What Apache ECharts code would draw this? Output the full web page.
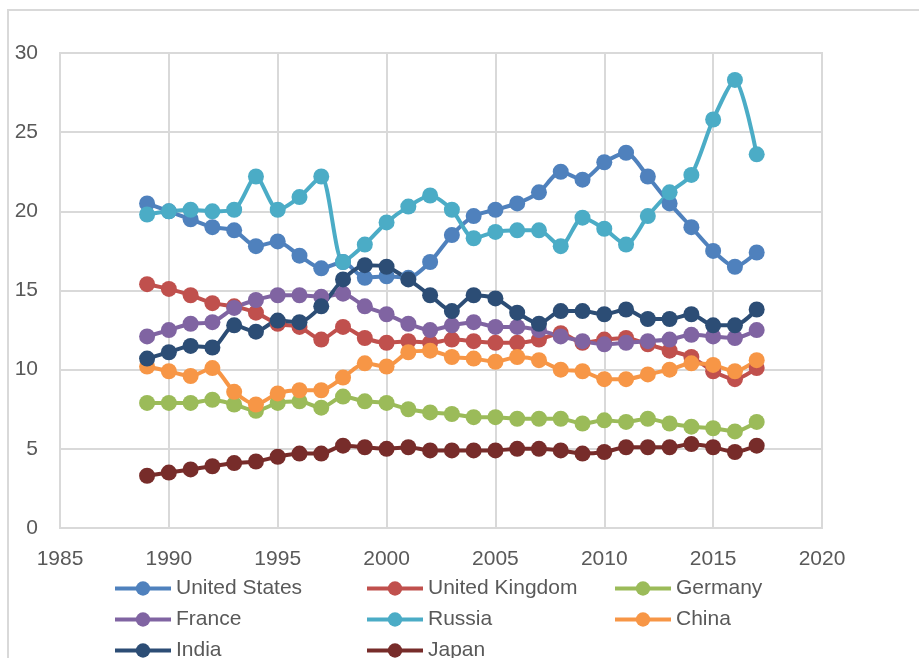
<!DOCTYPE html>
<html>
<head>
<meta charset="utf-8">
<script src="https://cdn.jsdelivr.net/npm/echarts@6/dist/echarts.min.js"></script>
<style>
  html, body { margin: 0; padding: 0; background: #fff; }
  #main { width: 919px; height: 658px; }
</style>
</head>
<body>
<div id="main"></div>
<script>
// years on the x axis
var years = [1989, 1990, 1991, 1992, 1993, 1994, 1995, 1996, 1997, 1998,
  1999, 2000, 2001, 2002, 2003, 2004, 2005, 2006, 2007, 2008,
  2009, 2010, 2011, 2012, 2013, 2014, 2015, 2016, 2017];

// values per country
var unitedStates = [20.5, 20.0, 19.5, 19.0, 18.8, 17.8, 18.1, 17.2, 16.4, 16.8,
  15.8, 15.9, 15.8, 16.8, 18.5, 19.7, 20.1, 20.5, 21.2, 22.5,
  22.0, 23.1, 23.7, 22.2, 20.5, 19.0, 17.5, 16.5, 17.4];
var unitedKingdom = [15.4, 15.1, 14.7, 14.2, 14.0, 13.6, 12.9, 12.7, 11.9, 12.7,
  12.0, 11.7, 11.8, 11.7, 11.9, 11.8, 11.7, 11.7, 11.9, 12.3,
  11.7, 11.9, 12.0, 11.6, 11.2, 10.8, 9.9, 9.4, 10.1];
var germany = [7.9, 7.9, 7.9, 8.1, 7.8, 7.4, 7.9, 8.0, 7.6, 8.3,
  8.0, 7.9, 7.5, 7.3, 7.2, 7.0, 7.0, 6.9, 6.9, 6.9,
  6.6, 6.8, 6.7, 6.9, 6.6, 6.4, 6.3, 6.1, 6.7];
var france = [12.1, 12.5, 12.9, 13.0, 13.9, 14.4, 14.7, 14.7, 14.6, 14.8,
  14.0, 13.5, 12.9, 12.5, 12.8, 13.0, 12.7, 12.7, 12.5, 12.1,
  11.8, 11.6, 11.7, 11.8, 11.9, 12.2, 12.1, 12.0, 12.5];
var russia = [19.8, 20.0, 20.1, 20.0, 20.1, 22.2, 20.1, 20.9, 22.2, 16.8,
  17.9, 19.3, 20.3, 21.0, 20.1, 18.3, 18.7, 18.8, 18.8, 17.8,
  19.6, 18.9, 17.9, 19.7, 21.2, 22.3, 25.8, 28.3, 23.6];
var china = [10.2, 9.9, 9.6, 10.1, 8.6, 7.8, 8.5, 8.7, 8.7, 9.5,
  10.4, 10.2, 11.1, 11.2, 10.8, 10.7, 10.5, 10.8, 10.6, 10.0,
  9.9, 9.4, 9.4, 9.7, 10.0, 10.4, 10.3, 9.9, 10.6];
var india = [10.7, 11.1, 11.5, 11.4, 12.8, 12.4, 13.1, 13.0, 14.0, 15.7,
  16.6, 16.5, 15.7, 14.7, 13.7, 14.7, 14.5, 13.6, 12.9, 13.7,
  13.7, 13.5, 13.8, 13.2, 13.2, 13.5, 12.8, 12.8, 13.8];
var japan = [3.3, 3.5, 3.7, 3.9, 4.1, 4.2, 4.5, 4.7, 4.7, 5.2,
  5.1, 5.0, 5.1, 4.9, 4.9, 4.9, 4.9, 5.0, 5.0, 4.9,
  4.7, 4.8, 5.1, 5.1, 5.1, 5.3, 5.1, 4.8, 5.2];

var names = ['United States', 'United Kingdom', 'Germany', 'France', 'Russia', 'China', 'India', 'Japan'];
var colors = ['#4f81bd', '#c0504d', '#9bbb59', '#8064a2', '#4bacc6', '#f79646', '#2c4d75', '#772c2a'];
var values = [unitedStates, unitedKingdom, germany, france, russia, china, india, japan];

var textColor = '#595959';
var gridColor = '#d9d9d9';
var fontName = 'Liberation Sans';

function pairs(vals) {
  var out = [];
  for (var i = 0; i < years.length; i++) {
    out.push([years[i], vals[i]]);
  }
  return out;
}

var series = [];
for (var i = 0; i < names.length; i++) {
  series.push({
    name: names[i],
    type: 'line',
    smooth: 0.25,
    symbol: 'circle',
    symbolSize: 16,
    color: colors[i],
    lineStyle: { width: 4, color: colors[i] },
    itemStyle: { color: colors[i] },
    data: pairs(values[i])
  });
}

// one legend per column, like the three columns of the picture
function legendCol(left, data) {
  return {
    type: 'plain',
    orient: 'vertical',
    left: left,
    top: 573,
    height: 140,
    itemWidth: 56,
    itemHeight: 18,
    itemGap: 10,
    lineStyle: { width: 4 },
    data: data,
    textStyle: { color: textColor, fontSize: 21, fontFamily: fontName }
  };
}

var chart = echarts.init(document.getElementById('main'));
chart.setOption({
  animation: false,
  backgroundColor: '#fff',
  graphic: [{
    type: 'rect',
    z: -10,
    shape: { x: 8, y: 10, width: 1000, height: 1000 },
    style: { fill: 'none', stroke: gridColor, lineWidth: 2 }
  }],
  grid: {
    left: 60, right: 97, top: 53, bottom: 130,
    show: true, borderColor: gridColor, borderWidth: 2
  },
  xAxis: {
    type: 'value',
    min: 1985, max: 2020, interval: 5,
    axisLine: { show: false },
    axisTick: { show: false },
    splitLine: { show: true, lineStyle: { color: gridColor, width: 2 } },
    axisLabel: {
      color: textColor, fontSize: 21, fontFamily: fontName, margin: 21,
      formatter: function (v) { return String(v); }
    }
  },
  yAxis: {
    type: 'value',
    min: 0, max: 30, interval: 5,
    axisLine: { show: false },
    axisTick: { show: false },
    splitLine: { show: true, lineStyle: { color: gridColor, width: 2 } },
    axisLabel: { color: textColor, fontSize: 21, fontFamily: fontName, margin: 22 }
  },
  legend: [
    legendCol(108, ['United States', 'France', 'India']),
    legendCol(360, ['United Kingdom', 'Russia', 'Japan']),
    legendCol(608, ['Germany', 'China'])
  ],
  series: series
});
</script>
</body>
</html>
